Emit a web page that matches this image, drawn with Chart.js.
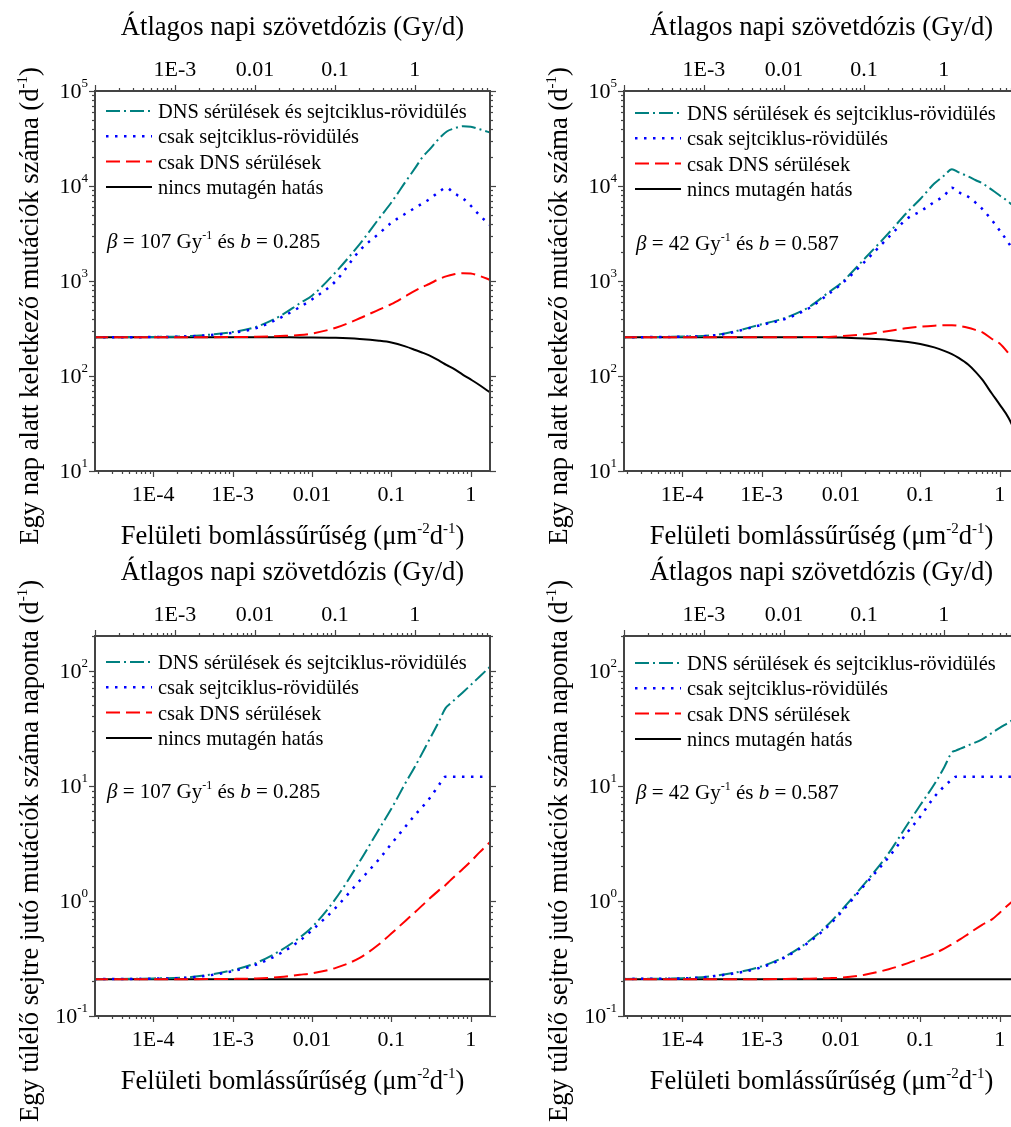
<!DOCTYPE html>
<html>
<head>
<meta charset="utf-8">
<script src="https://cdn.jsdelivr.net/npm/chart.js@4.4.1/dist/chart.umd.min.js"></script>
<style>
  html, body { margin: 0; padding: 0; background: #fff; width: 1011px; height: 1127px; overflow: hidden; }
  canvas { position: absolute; }
</style>
</head>
<body>
<canvas id="tl" width="529" height="560" style="left:0;top:0"></canvas>
<canvas id="tr" width="529" height="560" style="left:529px;top:0"></canvas>
<canvas id="bl" width="529" height="582" style="left:0;top:545px"></canvas>
<canvas id="br" width="529" height="582" style="left:529px;top:545px"></canvas>
<script>
// ---- data ----
const seriesLabels = [
  'DNS sérülések és sejtciklus-rövidülés',
  'csak sejtciklus-rövidülés',
  'csak DNS sérülések',
  'nincs mutagén hatás'
];

// surface decay density (um^-2 d^-1)
const densityTop = [1.8e-5, 1e-4, 3e-4, 1e-3, 2e-3, 4e-3, 7e-3, 0.01, 0.02, 0.04, 0.07, 0.1, 0.15, 0.2, 0.25, 0.3, 0.4, 0.5, 0.6, 0.8, 1, 1.3, 1.8];
const densityBL = [1.8e-5, 1e-4, 3e-4, 1e-3, 2e-3, 4e-3, 7e-3, 0.01, 0.02, 0.04, 0.07, 0.1, 0.15, 0.2, 0.3, 0.4, 0.48, 0.55, 0.8, 1, 1.3, 1.8];
const densityBR = [1.8e-5, 1e-4, 3e-4, 1e-3, 2e-3, 4e-3, 7e-3, 0.01, 0.02, 0.04, 0.07, 0.1, 0.15, 0.2, 0.25, 0.28, 0.32, 0.4, 0.6, 0.8, 1, 1.3, 1.8];

// top left: mutations per day, beta = 107
const tlBoth  = [256, 258, 264, 290, 330, 430, 580, 700, 1245, 2450, 4550, 6700, 11000, 15500, 20400, 24000, 31600, 37500, 40000, 42500, 42000, 39500, 36300];
const tlCycle = [256, 257, 262, 285, 320, 410, 530, 640, 1000, 2100, 3160, 4100, 5100, 5900, 6600, 7250, 8700, 9600, 8500, 7400, 6200, 4900, 3800];
const tlDna   = [256, 256, 256, 257, 259, 264, 270, 280, 322, 405, 500, 570, 690, 790, 870, 930, 1050, 1125, 1170, 1210, 1200, 1130, 1020];
const tlNone  = [256, 256, 256, 256, 256, 256, 255, 255, 252, 245, 235, 225, 205, 188, 175, 165, 145, 130, 120, 103, 92, 80, 66];

// top right: mutations per day, beta = 42
const trBoth  = [256, 260, 275, 350, 410, 535, 760, 950, 1730, 3200, 5400, 7300, 10600, 12900, 15000, 14000, 12600, 11500, 10700, 9100, 7950, 6800, 5300];
const trCycle = [256, 259, 272, 345, 400, 520, 730, 920, 1600, 2900, 4600, 5400, 6800, 7900, 9600, 8650, 7700, 6650, 5750, 4350, 3400, 2500, 1600];
const trDna   = [256, 256, 256, 256, 256, 257, 258, 262, 275, 298, 320, 330, 338, 342, 342, 338, 322, 305, 290, 245, 220, 172, 120];
const trNone  = [256, 256, 256, 256, 256, 256, 255, 254, 248, 240, 228, 217, 200, 184, 170, 156, 132, 110, 92, 65, 50, 36, 20];

// bottom left: mutations per surviving cell per day, beta = 107
const blBoth  = [0.209, 0.212, 0.218, 0.25, 0.29, 0.37, 0.48, 0.59, 1.05, 2.2, 4.2, 6.3, 10.5, 14.8, 25, 36.4, 47, 51.5, 65, 75, 89, 110];
const blCycle = [0.209, 0.211, 0.216, 0.245, 0.28, 0.35, 0.45, 0.555, 0.875, 1.5, 2.3, 3.13, 4.4, 5.6, 7.7, 10.2, 12, 12, 12, 12, 12, 12];
const blDna   = [0.209, 0.209, 0.209, 0.21, 0.212, 0.218, 0.228, 0.235, 0.262, 0.32, 0.42, 0.52, 0.67, 0.8, 1.04, 1.24, 1.37, 1.5, 1.9, 2.2, 2.65, 3.3];
const blNone  = [0.209, 0.209, 0.209, 0.209, 0.209, 0.209, 0.209, 0.209, 0.209, 0.209, 0.209, 0.209, 0.209, 0.209, 0.209, 0.209, 0.209, 0.209, 0.209, 0.209, 0.209, 0.209];

// bottom right: mutations per surviving cell per day, beta = 42
const brBoth  = [0.21, 0.213, 0.227, 0.27, 0.33, 0.45, 0.63, 0.82, 1.42, 2.6, 4.7, 6.8, 10.3, 14.5, 19.5, 20.2, 21, 22.4, 25.3, 28.8, 31.8, 35.5, 41];
const brCycle = [0.21, 0.212, 0.225, 0.265, 0.325, 0.44, 0.61, 0.79, 1.38, 2.4, 4.0, 5.4, 8.0, 9.9, 11.3, 12, 12, 12, 12, 12, 12, 12, 12];
const brDna   = [0.209, 0.209, 0.209, 0.209, 0.21, 0.211, 0.213, 0.215, 0.228, 0.255, 0.288, 0.315, 0.35, 0.385, 0.42, 0.44, 0.465, 0.515, 0.62, 0.69, 0.79, 0.93, 1.12];
const brNone  = [0.209, 0.209, 0.209, 0.209, 0.209, 0.209, 0.209, 0.209, 0.209, 0.209, 0.209, 0.209, 0.209, 0.209, 0.209, 0.209, 0.209, 0.209, 0.209, 0.209, 0.209, 0.209, 0.209];

// axes
const xMajorValues = [1e-4, 1e-3, 0.01, 0.1, 1];
const xMajorLabels = ['1E-4', '1E-3', '0.01', '0.1', '1'];
const doseMajorValues = [1e-3, 0.01, 0.1, 1];
const doseMajorLabels = ['1E-3', '0.01', '0.1', '1'];
const yMajorTop = [10, 100, 1000, 1e4, 1e5];
const yExpTop = ['1', '2', '3', '4', '5'];
const yMajorBottom = [0.1, 1, 10, 100];
const yExpBottom = ['-1', '0', '1', '2'];
const paramsLeft = ['107', '0.285'];
const paramsRight = ['42', '0.587'];

// ---- look ----
const SERIF = "'Liberation Serif', 'Times New Roman', serif";
const font = (size, italic) => (italic ? 'italic ' : '') + size + 'px ' + SERIF;
const STYLES = [
  { color: '#008080', dash: [14, 4, 2, 4], width: 2 },
  { color: '#0000ff', dash: [2.5, 6.5], width: 2.5 },
  { color: '#ff0000', dash: [14, 6], width: 2 },
  { color: '#000000', dash: [], width: 2 }
];
const DRAW_ORDER = [3, 2, 1, 4];
const PLOT = { left: 95, right: 490, top: 91, bottom: 471 };
const X_RANGE = [1.85e-5, 1.75];
const DOSE_RANGE = [1.0e-4, 8.7];
const TITLE_SIZE = 26.6;

const X_TITLE = [['Felületi bomlássűrűség (μm'], ['-2', 's'], ['d'], ['-1', 's'], [')']];
const TOP_TITLE = [['Átlagos napi szövetdózis (Gy/d)']];
const Y_TITLE_TOP = [['Egy nap alatt keletkező mutációk száma (d'], ['-1', 's'], [')']];
const Y_TITLE_BOTTOM = [['Egy túlélő sejtre jutó mutációk száma naponta (d'], ['-1', 's'], [')']];

function decadeTicks(min, max) {
  const out = [];
  for (let e = Math.floor(Math.log10(min)); e <= Math.ceil(Math.log10(max)); e++) {
    for (let k = 1; k < 10; k++) {
      const v = k * Math.pow(10, e);
      if (v >= min * 0.9999 && v <= max * 1.0001) out.push({ value: v, major: k === 1 });
    }
  }
  return out;
}

function labelFor(v, values, labels) {
  const i = values.findIndex(m => Math.abs(Math.log10(m) - Math.log10(v)) < 1e-6);
  return i < 0 ? '' : labels[i];
}

function drawRich(ctx, parts, x, y, size, align) {
  const supSize = Math.round(size * 0.58);
  const rise = size * 0.42;
  const widths = parts.map(([t, st]) => {
    ctx.font = font(st === 's' ? supSize : size, st === 'i');
    return ctx.measureText(t).width;
  });
  let cx = align === 'center' ? x - widths.reduce((a, b) => a + b, 0) / 2 : x;
  parts.forEach(([t, st], i) => {
    ctx.font = font(st === 's' ? supSize : size, st === 'i');
    ctx.fillText(t, cx, st === 's' ? y - rise : y);
    cx += widths[i];
  });
}

const panelDecor = {
  id: 'panelDecor',
  afterDraw(chart, args, o) {
    const ctx = chart.ctx;
    const a = chart.chartArea;
    ctx.save();

    // frame and outward ticks
    ctx.strokeStyle = '#444';
    ctx.lineWidth = 2;
    ctx.strokeRect(a.left, a.top, a.right - a.left, a.bottom - a.top);
    ctx.lineWidth = 1.2;
    ['x', 'x2', 'y', 'y2'].forEach(id => {
      const s = chart.scales[id];
      s.ticks.forEach(t => {
        const p = Math.round(s.getPixelForValue(t.value)) + 0.5;
        const len = t.major ? 6 : 3;
        ctx.beginPath();
        if (id === 'x') { ctx.moveTo(p, a.bottom); ctx.lineTo(p, a.bottom + len); }
        if (id === 'x2') { ctx.moveTo(p, a.top); ctx.lineTo(p, a.top - len); }
        if (id === 'y') { ctx.moveTo(a.left, p); ctx.lineTo(a.left - len, p); }
        if (id === 'y2') { ctx.moveTo(a.right, p); ctx.lineTo(a.right + len, p); }
        ctx.stroke();
      });
    });

    ctx.fillStyle = '#000';
    ctx.textBaseline = 'alphabetic';

    // y tick labels 10^n
    const ys = chart.scales.y;
    o.yMajor.forEach((v, i) => {
      const py = ys.getPixelForValue(v);
      ctx.textAlign = 'right';
      ctx.font = font(13);
      const ew = ctx.measureText(o.yExp[i]).width;
      ctx.fillText(o.yExp[i], a.left - 7, py - 4);
      ctx.font = font(22);
      ctx.fillText('10', a.left - 7 - ew, py + 7);
    });
    ctx.textAlign = 'left';

    // axis titles
    const cx = (a.left + a.right) / 2;
    drawRich(ctx, TOP_TITLE, cx, 35, TITLE_SIZE, 'center');
    drawRich(ctx, X_TITLE, cx, 544, TITLE_SIZE, 'center');
    ctx.save();
    ctx.translate(38, 306);
    ctx.rotate(-Math.PI / 2);
    drawRich(ctx, o.yTitle, 0, 0, TITLE_SIZE, 'center');
    ctx.restore();

    // legend
    chart.data.datasets.forEach((ds, i) => {
      const ly = o.legendY + i * 25.3;
      ctx.save();
      ctx.strokeStyle = ds.borderColor;
      ctx.lineWidth = ds.borderWidth;
      ctx.setLineDash(ds.borderDash);
      ctx.beginPath();
      ctx.moveTo(a.left + 11, ly);
      ctx.lineTo(a.left + 57, ly);
      ctx.stroke();
      ctx.restore();
      ctx.font = font(20.4);
      ctx.fillText(ds.label, a.left + 63, ly + 7);
    });

    // parameters
    drawRich(ctx, [['β', 'i'], [' = ' + o.params[0] + ' Gy'], ['-1', 's'], [' és '], ['b', 'i'], [' = ' + o.params[1]]],
      a.left + 12, o.annY, 21, 'left');

    ctx.restore();
  }
};

function logAxis(position, range, extra) {
  return Object.assign({
    type: 'logarithmic',
    position,
    min: range[0],
    max: range[1],
    afterBuildTicks: s => { s.ticks = decadeTicks(s.min, s.max); },
    grid: { display: false },
    border: { display: false }
  }, extra);
}

function makePanel(p) {
  const canvas = document.getElementById(p.id);
  const W = canvas.width, H = canvas.height;
  const tickFont = { family: SERIF, size: 22 };
  new Chart(canvas, {
    type: 'line',
    data: {
      datasets: p.series.map((ys, i) => ({
        label: seriesLabels[i],
        data: p.xs.map((x, j) => ({ x, y: ys[j] })),
        borderColor: STYLES[i].color,
        borderWidth: STYLES[i].width,
        borderDash: STYLES[i].dash,
        pointRadius: 0,
        fill: false,
        order: DRAW_ORDER[i],
        cubicInterpolationMode: 'monotone'
      }))
    },
    options: {
      responsive: false,
      animation: false,
      devicePixelRatio: 1,
      layout: { padding: 0 },
      plugins: {
        legend: { display: false },
        tooltip: { enabled: false },
        panelDecor: p
      },
      scales: {
        x: logAxis('bottom', X_RANGE, {
          afterFit: s => { s.height = H - PLOT.bottom; },
          ticks: { autoSkip: false, maxRotation: 0, minRotation: 0, padding: 3, color: '#000', font: tickFont,
            callback: v => labelFor(v, xMajorValues, xMajorLabels) }
        }),
        x2: logAxis('top', DOSE_RANGE, {
          afterFit: s => { s.height = PLOT.top; },
          ticks: { autoSkip: false, maxRotation: 0, minRotation: 0, padding: 0, color: '#000', font: tickFont,
            callback: v => labelFor(v, doseMajorValues, doseMajorLabels) }
        }),
        y: logAxis('left', p.yRange, {
          afterFit: s => { s.width = PLOT.left; },
          ticks: { display: false }
        }),
        y2: logAxis('right', p.yRange, {
          afterFit: s => { s.width = W - PLOT.right; },
          ticks: { display: false }
        })
      }
    },
    plugins: [panelDecor]
  });
}

const yRangeTop = [10, 1e5];
const yRangeBottom = [0.1, 200];

[
  { id: 'tl', xs: densityTop, series: [tlBoth, tlCycle, tlDna, tlNone], yRange: yRangeTop, yMajor: yMajorTop, yExp: yExpTop,
    yTitle: Y_TITLE_TOP, params: paramsLeft, legendY: 111, annY: 248 },
  { id: 'tr', xs: densityTop, series: [trBoth, trCycle, trDna, trNone], yRange: yRangeTop, yMajor: yMajorTop, yExp: yExpTop,
    yTitle: Y_TITLE_TOP, params: paramsRight, legendY: 113, annY: 250 },
  { id: 'bl', xs: densityBL, series: [blBoth, blCycle, blDna, blNone], yRange: yRangeBottom, yMajor: yMajorBottom, yExp: yExpBottom,
    yTitle: Y_TITLE_BOTTOM, params: paramsLeft, legendY: 117, annY: 253 },
  { id: 'br', xs: densityBR, series: [brBoth, brCycle, brDna, brNone], yRange: yRangeBottom, yMajor: yMajorBottom, yExp: yExpBottom,
    yTitle: Y_TITLE_BOTTOM, params: paramsRight, legendY: 118, annY: 254 }
].forEach(makePanel);
</script>
</body>
</html>
